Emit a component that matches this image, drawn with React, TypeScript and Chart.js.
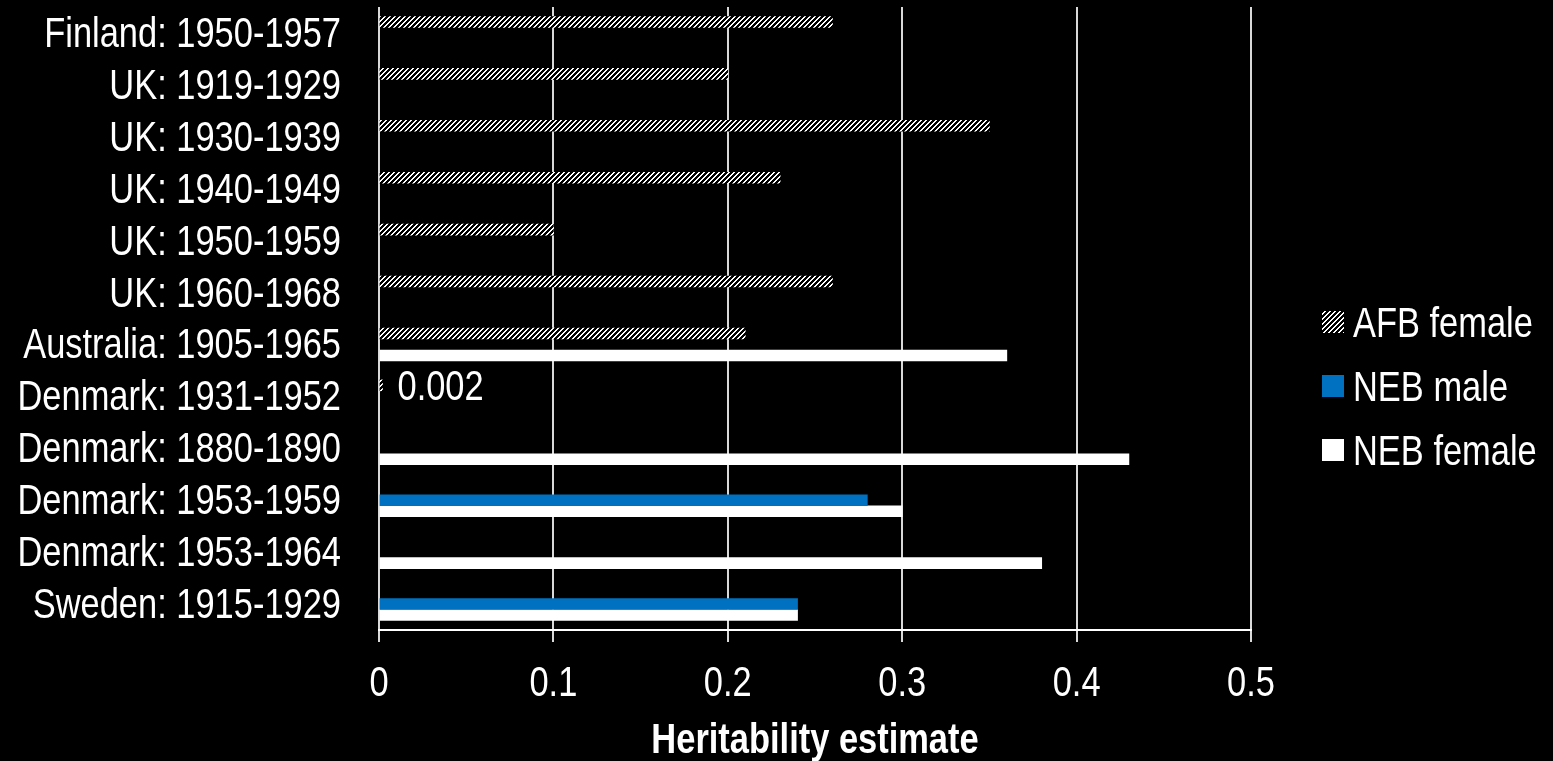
import React, { useEffect, useRef } from "react";
import { Chart, registerables } from "chart.js";

Chart.register(...registerables);

const categories = [
  "Finland: 1950-1957",
  "UK: 1919-1929",
  "UK: 1930-1939",
  "UK: 1940-1949",
  "UK: 1950-1959",
  "UK: 1960-1968",
  "Australia: 1905-1965",
  "Denmark: 1931-1952",
  "Denmark: 1880-1890",
  "Denmark: 1953-1959",
  "Denmark: 1953-1964",
  "Sweden: 1915-1929",
];

const afbFemale = [0.26, 0.2, 0.35, 0.23, 0.1, 0.26, 0.21, 0.002, null, null, null, null];
const nebMale = [null, null, null, null, null, null, null, null, null, 0.28, null, 0.24];
const nebFemale = [null, null, null, null, null, null, 0.36, null, 0.43, 0.3, 0.38, 0.24];

const seriesNames = ["AFB female", "NEB male", "NEB female"];
const xTicks = [0, 0.1, 0.2, 0.3, 0.4, 0.5];
const labeledPoints = [{ dataset: 0, index: 7 }];
const axisTitle = "Heritability estimate";

// Arial-metric font, drawn horizontally condensed to look like Arial Narrow
const FONT = "'Liberation Sans', Arial, sans-serif";
const SX = 0.82;
const FS = 42;
const BLUE = "#0070C0";
const GRID = "#d9d9d9";

function makeHatch(): CanvasPattern | string {
  const c = document.createElement("canvas");
  const s = 5;
  c.width = s;
  c.height = s;
  const g = c.getContext("2d");
  if (!g) return "#ffffff";
  const img = g.createImageData(s, s);
  for (let y = 0; y < s; y++) {
    for (let x = 0; x < s; x++) {
      const on = (x + y) % s < 2;
      const i = (y * s + x) * 4;
      const v = on ? 255 : 0;
      img.data[i] = v;
      img.data[i + 1] = v;
      img.data[i + 2] = v;
      img.data[i + 3] = 255;
    }
  }
  g.putImageData(img, 0, 0);
  const p = g.createPattern(c, "repeat");
  return p || "#ffffff";
}

function narrowText(
  ctx: CanvasRenderingContext2D,
  text: string,
  x: number,
  y: number,
  align: CanvasTextAlign,
  size: number,
  bold = false
) {
  ctx.save();
  ctx.font = `${bold ? "bold " : ""}${size}px ${FONT}`;
  ctx.fillStyle = "#ffffff";
  ctx.textBaseline = "alphabetic";
  ctx.textAlign = align;
  ctx.translate(x, y);
  ctx.scale(SX, 1);
  ctx.fillText(text, 0, 0);
  ctx.restore();
}

const CAP = 0.716;

export default function App() {
  const ref = useRef<HTMLCanvasElement | null>(null);

  useEffect(() => {
    document.body.style.margin = "0";
    document.body.style.background = "#000";
    const canvas = ref.current;
    if (!canvas) return;
    const hatch = makeHatch();
    const colors: any[] = [hatch, BLUE, "#ffffff"];

    const textPlugin = {
      id: "narrowTexts",
      afterDraw(chart: any) {
        const ctx = chart.ctx as CanvasRenderingContext2D;
        const xs = chart.scales.x;
        const ys = chart.scales.y;
        const area = chart.chartArea;
        const capHalf = (CAP * FS) / 2;

        // category labels (y axis)
        (chart.data.labels as string[]).forEach((lab, i) => {
          const py = ys.getPixelForValue(i);
          narrowText(ctx, lab, area.left - 38, py + capHalf - 1, "right", FS);
        });

        // value ticks (x axis)
        xs.ticks.forEach((t: any) => {
          const px = xs.getPixelForValue(t.value);
          const txt = String(Number(Number(t.value).toFixed(1)));
          narrowText(ctx, txt, px, area.bottom + 66, "center", FS);
        });

        // axis title
        narrowText(ctx, axisTitle, (area.left + area.right) / 2, area.bottom + 123, "center", FS, true);

        // data labels
        labeledPoints.forEach(({ dataset, index }) => {
          const el = chart.getDatasetMeta(dataset).data[index];
          const v = chart.data.datasets[dataset].data[index];
          if (!el || v == null) return;
          narrowText(ctx, String(v), el.x + 15, el.y + capHalf, "left", FS);
        });

        // legend
        const boxX = 1322;
        const box = 22;
        const centers = [322, 386, 450];
        seriesNames.forEach((name, i) => {
          ctx.save();
          ctx.fillStyle = colors[i];
          ctx.fillRect(boxX, centers[i] - box / 2, box, box);
          ctx.restore();
          narrowText(ctx, name, boxX + 31, centers[i] + capHalf, "left", FS);
        });
      },
    };

    const chart = new Chart(canvas, {
      type: "bar",
      data: {
        labels: categories,
        datasets: [
          { label: seriesNames[0], data: afbFemale, backgroundColor: colors[0], borderWidth: 0 },
          { label: seriesNames[1], data: nebMale, backgroundColor: colors[1], borderWidth: 0 },
          { label: seriesNames[2], data: nebFemale, backgroundColor: colors[2], borderWidth: 0 },
        ] as any,
      },
      options: {
        indexAxis: "y",
        responsive: false,
        animation: false,
        devicePixelRatio: 1,
        layout: { padding: { top: 7, right: 302, left: 0, bottom: 0 } },
        datasets: { bar: { barThickness: 11, skipNull: false } } as any,
        plugins: {
          legend: { display: false },
          tooltip: { enabled: false },
        },
        scales: {
          x: {
            type: "linear",
            min: 0,
            max: 0.5,
            afterBuildTicks(scale: any) {
              scale.ticks = xTicks.map((v) => ({ value: v }));
            },
            afterFit(scale: any) {
              scale.height = 131;
              scale.paddingLeft = 0;
              scale.paddingRight = 0;
              scale.paddingTop = 0;
              scale.paddingBottom = 0;
            },
            ticks: { display: false },
            grid: {
              color: GRID,
              lineWidth: 2,
              tickLength: 12,
              drawTicks: true,
            },
            border: { display: true, color: "#ffffff", width: 2 },
          },
          y: {
            type: "category",
            afterFit(scale: any) {
              scale.width = 379;
              scale.paddingLeft = 0;
              scale.paddingRight = 0;
              scale.paddingTop = 0;
              scale.paddingBottom = 0;
            },
            ticks: { display: false, autoSkip: false },
            grid: { display: false, drawTicks: false },
            border: { display: false },
          },
        },
      },
      plugins: [textPlugin],
    });
    return () => chart.destroy();
  }, []);

  return (
    <div style={{ position: "fixed", left: 0, top: 0, width: 1553, height: 761, background: "#000" }}>
      <canvas ref={ref} width={1553} height={761} style={{ display: "block" }} />
    </div>
  );
}
